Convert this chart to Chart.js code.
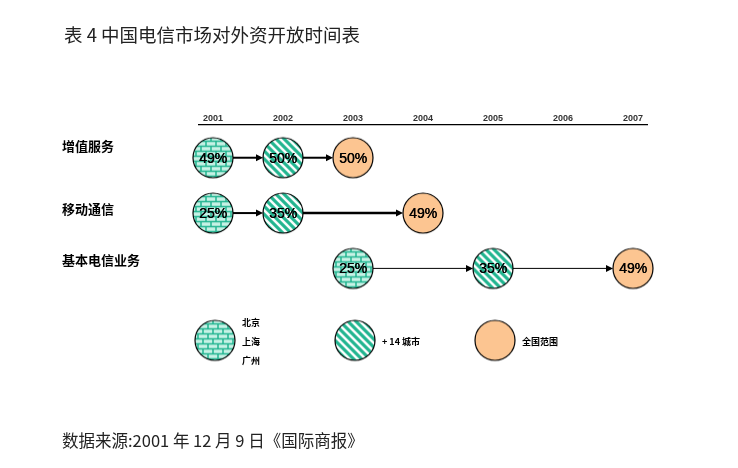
<!DOCTYPE html>
<html>
<head>
<meta charset="utf-8">
<script src="https://cdn.jsdelivr.net/npm/chart.js@4.4.1/dist/chart.umd.min.js"></script>
<style>
  html,body{margin:0;padding:0;background:#fff;}
  #wrap{width:738px;height:468px;position:relative;}
</style>
</head>
<body>
<div id="wrap"><canvas id="c" width="738" height="468"></canvas></div>
<script>
(function(){
  'use strict';

  // ---------- data ----------
  const years = [2001, 2002, 2003, 2004, 2005, 2006, 2007];
  const services = ['增值服务', '移动通信', '基本电信业务'];

  // 增值服务
  const vasYears  = [2001, 2002, 2003];
  const vasShare  = [49, 50, 50];
  const vasScope  = ['city3', 'city17', 'national'];
  // 移动通信
  const mobYears  = [2001, 2002, 2004];
  const mobShare  = [25, 35, 49];
  const mobScope  = ['city3', 'city17', 'national'];
  // 基本电信业务
  const basYears  = [2003, 2005, 2007];
  const basShare  = [25, 35, 49];
  const basScope  = ['city3', 'city17', 'national'];

  const scopeKeys   = ['city3', 'city17', 'national'];
  const scopeLabels = [['北京', '上海', '广州'], ['+ 14 城市'], ['全国范围']];

  const TITLE  = '表 4 中国电信市场对外资开放时间表';
  const SOURCE = '数据来源:2001 年 12 月 9 日《国际商报》';

  // ---------- circle sprites ----------
  const R = 20;
  const TEAL = '#22b590';
  function makeCircle(kind){
    const size = R*2 + 4;
    const cv = document.createElement('canvas');
    cv.width = size; cv.height = size;
    const g = cv.getContext('2d');
    const c = size/2;
    g.save();
    g.beginPath(); g.arc(c, c, R, 0, Math.PI*2); g.closePath();
    g.clip();
    if(kind === 'city3'){
      g.fillStyle = '#c8f2e6'; g.fillRect(0,0,size,size);
      g.strokeStyle = TEAL; g.lineWidth = 1.5;
      const bh = 5, bw = 10;
      for(let r=0; r*bh < size; r++){
        const y = r*bh + 0.5;
        g.beginPath(); g.moveTo(0,y); g.lineTo(size,y); g.stroke();
        const off = (r%2) ? bw/2 : 0;
        for(let x = off; x < size; x += bw){
          g.beginPath(); g.moveTo(x, y); g.lineTo(x, y+bh); g.stroke();
        }
      }
    } else if(kind === 'city17'){
      g.fillStyle = '#ffffff'; g.fillRect(0,0,size,size);
      g.strokeStyle = TEAL; g.lineWidth = 3.2;
      for(let k=-size; k<size*2; k+=8){
        g.beginPath(); g.moveTo(k, 0); g.lineTo(k+size, size); g.stroke();
      }
    } else {
      g.fillStyle = '#fcc591'; g.fillRect(0,0,size,size);
    }
    g.restore();
    g.strokeStyle = '#000'; g.lineWidth = 1.2;
    g.beginPath(); g.arc(c, c, R, 0, Math.PI*2); g.stroke();
    return cv;
  }
  const sprites = {};
  scopeKeys.forEach(k => sprites[k] = makeCircle(k));

  function rowData(ys, row){ return ys.map(y => ({x: y, y: row})); }

  const rowsSrc = [
    {years: vasYears, share: vasShare, scope: vasScope, line: [2, 2]},
    {years: mobYears, share: mobShare, scope: mobScope, line: [2, 2.6]},
    {years: basYears, share: basShare, scope: basScope, line: [1, 1]},
  ];

  const datasets = rowsSrc.map((r, i) => ({
    label: services[i],
    data: rowData(r.years, i),
    pointStyle: r.scope.map(s => sprites[s]),
    pointRadius: R,
    clip: false,
    share: r.share,
    lineW: r.line,
  }));

  // row-label nudges relative to the row centre
  const labelDy = [-12, -4, -8];

  // ---------- plugin: arrows, labels, legend, texts ----------
  const decor = {
    id: 'decor',
    beforeDatasetsDraw(chart){
      const ctx = chart.ctx;
      ctx.save();
      chart.data.datasets.forEach((ds, di) => {
        const pts = chart.getDatasetMeta(di).data;
        for(let i=0; i<pts.length-1; i++){
          const x1 = pts[i].x + R, x2 = pts[i+1].x - R, y = pts[i].y;
          const w = ds.lineW[i];
          ctx.strokeStyle = '#000'; ctx.fillStyle = '#000'; ctx.lineWidth = w;
          ctx.beginPath(); ctx.moveTo(x1, y); ctx.lineTo(x2 - 5, y); ctx.stroke();
          ctx.beginPath();
          ctx.moveTo(x2, y); ctx.lineTo(x2 - 7, y - 3.5); ctx.lineTo(x2 - 7, y + 3.5);
          ctx.closePath(); ctx.fill();
        }
      });
      ctx.restore();
    },
    afterDatasetsDraw(chart){
      const ctx = chart.ctx;
      const ys = chart.scales.y;
      ctx.save();
      // share labels
      ctx.font = '14px "Liberation Sans", Arial, sans-serif';
      ctx.fillStyle = '#000'; ctx.textAlign = 'center'; ctx.textBaseline = 'middle';
      chart.data.datasets.forEach((ds, di) => {
        chart.getDatasetMeta(di).data.forEach((p, i) => {
          const t = ds.share[i] + '%';
          ctx.fillText(t, p.x, p.y + 1);
          ctx.fillText(t, p.x + 0.4, p.y + 1);
        });
      });
      // row labels
      ctx.font = 'bold 13px "Noto Sans CJK SC", sans-serif';
      ctx.textAlign = 'left'; ctx.fillStyle = '#000';
      services.forEach((s, i) => {
        ctx.fillText(s, 62, ys.getPixelForValue(i) + labelDy[i]);
      });
      // legend
      const xs = chart.scales.x;
      const ly = ys.getPixelForValue(3.3);
      const lx = [2001, 2003, 2005];
      ctx.font = 'bold 9px "Noto Sans CJK SC", sans-serif';
      scopeKeys.forEach((k, i) => {
        const cx = xs.getPixelForValue(lx[i]) + 2;
        const sp = sprites[k];
        ctx.drawImage(sp, cx - sp.width/2, ly - sp.height/2);
        const lines = scopeLabels[i];
        lines.forEach((t, j) => {
          ctx.fillText(t, cx + 27, ly + (j - (lines.length-1)/2) * 19 + 1);
        });
      });
      // title & source
      ctx.font = '18.5px "Noto Sans CJK SC", sans-serif';
      ctx.fillStyle = '#222';
      ctx.fillText(TITLE, 64, 35);
      ctx.font = '16.5px "Noto Sans CJK SC", sans-serif';
      ctx.fillText(SOURCE, 62, 441);
      ctx.restore();
    }
  };

  new Chart(document.getElementById('c'), {
    type: 'scatter',
    data: { datasets: datasets },
    options: {
      responsive: false,
      animation: false,
      layout: { padding: { left: 199, right: 91, top: 112, bottom: 68 } },
      plugins: { legend: { display: false }, tooltip: { enabled: false }, title: { display: false } },
      scales: {
        x: {
          type: 'linear', position: 'top',
          min: 2000.8, max: 2007.2,
          afterBuildTicks(axis){ axis.ticks = years.map(v => ({value: v})); },
          grid: { display: false, drawTicks: false },
          border: { display: true, color: '#000', width: 1.2 },
          ticks: {
            padding: 1, color: '#333',
            font: { family: '"Liberation Sans", Arial, sans-serif', size: 9, weight: 'bold' },
            callback: v => String(v)
          }
        },
        y: {
          type: 'linear', display: false, reverse: true,
          min: -0.595, max: 4.378
        }
      }
    },
    plugins: [decor]
  });
})();
</script>
</body>
</html>
